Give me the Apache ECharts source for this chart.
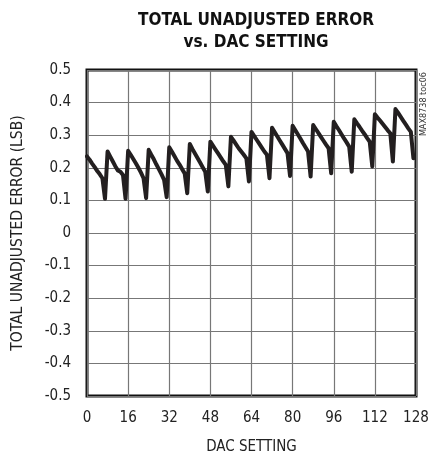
<!DOCTYPE html>
<html>
<head>
<meta charset="utf-8">
<script src="https://cdn.jsdelivr.net/npm/echarts@6/dist/echarts.min.js"></script>
<style>html,body{margin:0;padding:0;background:#fff;}#c{width:440px;height:460px;}</style>
</head>
<body>
<div id="c"></div>
<script>
const titleLines = ['TOTAL UNADJUSTED ERROR', 'vs. DAC SETTING'];
const xTicks = [0, 16, 32, 48, 64, 80, 96, 112, 128];
const yTicks = [-0.5, -0.4, -0.3, -0.2, -0.1, 0, 0.1, 0.2, 0.3, 0.4, 0.5];
const dacCodes = [
  0,1,2,3,4,5,6,7, 8,9,10,11,12,13,14,15,
  16,17,18,19,20,21,22,23, 24,25,26,27,28,29,30,31,
  32,33,34,35,36,37,38,39, 40,41,42,43,44,45,46,47,
  48,49,50,51,52,53,54,55, 56,57,58,59,60,61,62,63,
  64,65,66,67,68,69,70,71, 72,73,74,75,76,77,78,79,
  80,81,82,83,84,85,86,87, 88,89,90,91,92,93,94,95,
  96,97,98,99,100,101,102,103, 104,105,106,107,108,109,110,111,
  112,113,114,115,116,117,118,119, 120,121,122,123,124,125,126,127
];
const tueLSB = [
  0.235,0.225,0.213,0.202,0.190,0.180,0.168,0.105,
  0.250,0.235,0.220,0.205,0.192,0.188,0.178,0.105,
  0.252,0.240,0.227,0.214,0.200,0.185,0.168,0.107,
  0.255,0.240,0.226,0.210,0.195,0.180,0.163,0.110,
  0.263,0.250,0.236,0.222,0.210,0.196,0.183,0.122,
  0.273,0.258,0.244,0.230,0.216,0.202,0.188,0.127,
  0.280,0.268,0.256,0.244,0.232,0.220,0.209,0.143,
  0.295,0.284,0.272,0.260,0.250,0.240,0.229,0.158,
  0.310,0.298,0.286,0.274,0.262,0.250,0.240,0.168,
  0.323,0.310,0.297,0.284,0.271,0.258,0.245,0.175,
  0.329,0.316,0.303,0.290,0.276,0.263,0.250,0.173,
  0.331,0.319,0.307,0.295,0.283,0.271,0.260,0.183,
  0.341,0.328,0.316,0.303,0.290,0.278,0.265,0.188,
  0.349,0.337,0.326,0.314,0.303,0.291,0.280,0.204,
  0.364,0.354,0.345,0.335,0.325,0.315,0.306,0.219,
  0.380,0.369,0.357,0.345,0.333,0.321,0.310,0.229
];
const xName = 'DAC SETTING';
const yName = 'TOTAL UNADJUSTED ERROR (LSB)';
const noteText = 'MAX8738 toc06';

const FONT = "'Liberation Sans Narrow', 'Arial Narrow', 'DejaVu Sans Condensed', sans-serif";
const seriesData = dacCodes.map((c, i) => [c, tueLSB[i]]);

const chart = echarts.init(document.getElementById('c'), null, {renderer: 'canvas'});
chart.setOption({
  backgroundColor: '#fff',
  animation: false,
  title: {
    text: titleLines.join('\n'),
    left: 251, top: 5, textAlign: 'center',
    textStyle: {fontFamily: FONT, fontWeight: 'bold', fontSize: 17, lineHeight: 22, color: '#111'}
  },
  grid: {left: 87, right: 24, top: 70, bottom: 63, show: true, borderColor: '#111', borderWidth: 3, backgroundColor: 'transparent'},
  xAxis: {
    type: 'value', min: xTicks[0], max: xTicks[xTicks.length - 1], interval: 16,
    axisLine: {show: false}, axisTick: {show: false},
    splitLine: {show: true, lineStyle: {color: '#777', width: 1.2}},
    axisLabel: {fontFamily: FONT, fontSize: 15, color: '#222', margin: 15},
    name: xName, nameLocation: 'middle', nameGap: 44,
    nameTextStyle: {fontFamily: FONT, fontSize: 15, color: '#222'}
  },
  yAxis: {
    type: 'value', min: yTicks[0], max: yTicks[yTicks.length - 1], interval: 0.1,
    axisLine: {show: false}, axisTick: {show: false},
    splitLine: {show: true, lineStyle: {color: '#777', width: 1.2}},
    axisLabel: {fontFamily: FONT, fontSize: 15, color: '#222', margin: 16,
      formatter: v => { const r = Math.round(v * 10) / 10; return r === 0 ? '0' : r.toFixed(1); }},
    name: yName, nameLocation: 'middle', nameGap: 61,
    nameTextStyle: {fontFamily: FONT, fontSize: 15.5, color: '#222'}
  },
  graphic: [{
    type: 'text', left: 419, top: 72,
    rotation: Math.PI / 2,
    style: {text: noteText, fontFamily: FONT, fontSize: 9, fill: '#333'}
  }],
  series: [{
    type: 'line', data: seriesData, showSymbol: false, symbol: 'none',
    lineStyle: {color: '#231f20', width: 4, join: 'round', cap: 'round'}
  }]
});
</script>
</body>
</html>
